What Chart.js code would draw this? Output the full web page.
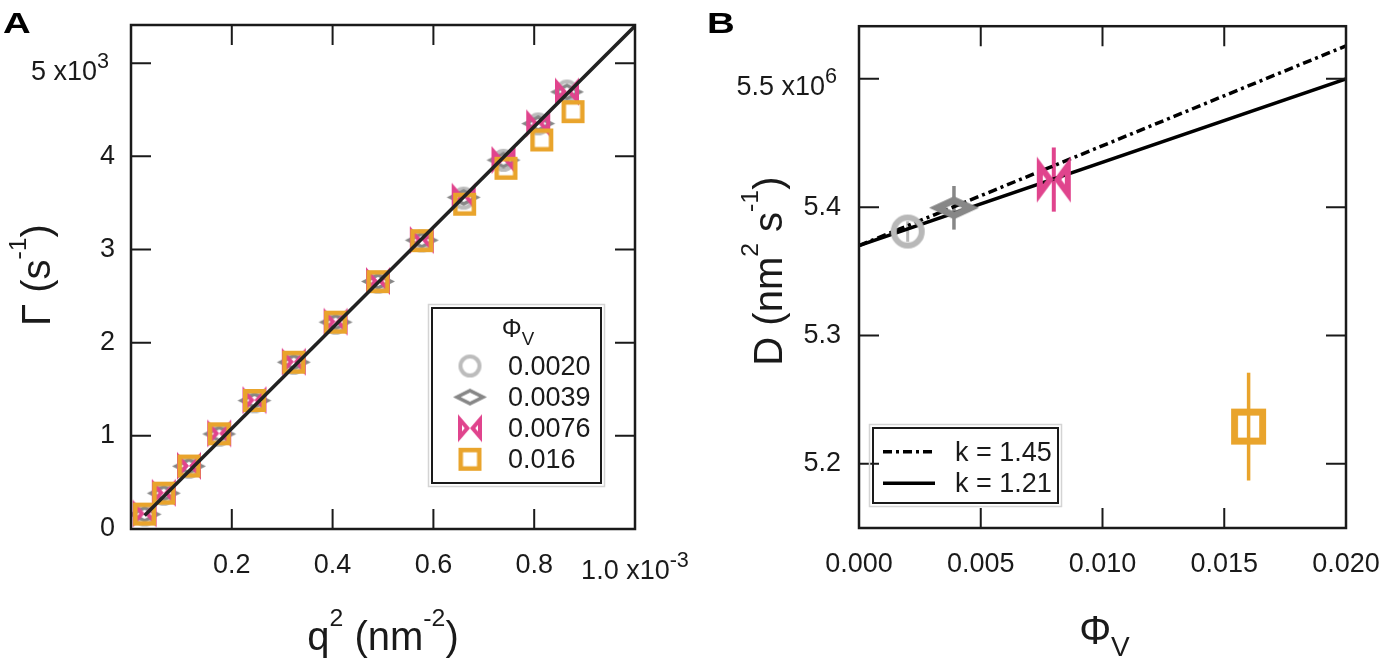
<!DOCTYPE html>
<html>
<head>
<meta charset="utf-8">
<script src="https://cdn.jsdelivr.net/npm/chart.js@4/dist/chart.umd.min.js"></script>
<style>
  body { margin: 0; background: #fff; width: 1400px; height: 665px; overflow: hidden; position: relative; }
  canvas { position: absolute; top: 0; }
</style>
</head>
<body>
<canvas id="chartA" width="700" height="665" style="left:0"></canvas>
<canvas id="chartB" width="700" height="665" style="left:700px"></canvas>
<script>
// ---- panel A: decay rate vs q^2 (q^2 in units of 1e-3 nm^-2) ----
var q2 = [0.027, 0.065, 0.115, 0.175, 0.245, 0.323, 0.406, 0.490, 0.577, 0.660, 0.739, 0.808, 0.865];
var q2Square = [0.027, 0.065, 0.115, 0.175, 0.245, 0.323, 0.406, 0.490, 0.577, 0.662, 0.744, 0.815, 0.877];
var gammaPhi0020 = [150, 372, 662, 1006, 1365, 1778, 2208, 2648, 3092, 3552, 3958, 4348, 4702];
var gammaPhi0039 = [158, 384, 674, 1020, 1378, 1790, 2220, 2658, 3100, 3560, 3960, 4352, 4692];
var gammaPhi0076 = [166, 388, 678, 1026, 1383, 1795, 2225, 2662, 3102, 3567, 3961, 4355, 4695];
var gammaPhi016 = [160, 385, 676, 1022, 1380, 1790, 2220, 2655, 3095, 3486, 3872, 4176, 4480];
var fitA_q2 = [0.027, 1.0];
var fitA_gamma = [146, 5400];
var phiLabels = ['0.0020', '0.0039', '0.0076', '0.016'];
var xTicksA = [0.2, 0.4, 0.6, 0.8, 1.0];
var yTicksA = [0, 1000, 2000, 3000, 4000, 5000];

// ---- panel B: diffusion coefficient vs volume fraction (D in units of 1e6 nm^2/s) ----
var phiV = [0.0020, 0.0039, 0.0080, 0.0160];
var dValue = [5.381, 5.3995, 5.4215, 5.229];
var dError = [0.008, 0.017, 0.025, 0.042];
var fitB_phi = [0, 0.020];
var fitK145 = [5.370, 5.5257];
var fitK121 = [5.370, 5.500];
var fitLabels = ['k = 1.45', 'k = 1.21'];
var xTicksB = [0, 0.005, 0.010, 0.015, 0.020];
var yTicksB = [5.2, 5.3, 5.4, 5.5];

var FONT = '"Liberation Sans", Arial, Helvetica, sans-serif';
var INK = '#1a1a1a';
var TICK = 27;
var colCircle = '#bcbcbc', colDiamond = '#878787', colPink = '#e0448d', colOrange = '#e9a42c';
var dashDot = [9, 4, 3, 4];

function pts(xs, ys) {
  return xs.map(function (x, i) { return { x: x, y: ys[i] }; });
}

// polygon scaled toward its incenter so that the rim is t wide
function shrink(p, t) {
  var n = p.length, per = 0, area = 0, cx = 0, cy = 0, i;
  for (i = 0; i < n; i++) {
    var a = p[i], b = p[(i + 1) % n];
    per += Math.hypot(b[0] - a[0], b[1] - a[1]);
    area += a[0] * b[1] - b[0] * a[1];
  }
  area = Math.abs(area) / 2;
  if (n === 3) {
    var la = Math.hypot(p[1][0] - p[2][0], p[1][1] - p[2][1]);
    var lb = Math.hypot(p[0][0] - p[2][0], p[0][1] - p[2][1]);
    var lc = Math.hypot(p[0][0] - p[1][0], p[0][1] - p[1][1]);
    cx = (la * p[0][0] + lb * p[1][0] + lc * p[2][0]) / per;
    cy = (la * p[0][1] + lb * p[1][1] + lc * p[2][1]) / per;
  } else {
    p.forEach(function (q) { cx += q[0] / n; cy += q[1] / n; });
  }
  var r = 2 * area / per;
  var s = Math.max(0, (r - t) / r);
  return p.map(function (q) { return [cx + (q[0] - cx) * s, cy + (q[1] - cy) * s]; });
}

function addPoly(g, p) {
  g.moveTo(p[0][0], p[0][1]);
  for (var i = 1; i < p.length; i++) g.lineTo(p[i][0], p[i][1]);
  g.closePath();
}

function makeMarker(kind, color, w, h, t) {
  var c = document.createElement('canvas');
  c.width = Math.ceil(w) + 4;
  c.height = Math.ceil(h) + 4;
  var g = c.getContext('2d');
  g.translate(c.width / 2, c.height / 2);
  g.fillStyle = color;
  g.strokeStyle = color;
  if (kind === 'circle') {
    g.lineWidth = t;
    g.beginPath();
    g.arc(0, 0, (w - t) / 2, 0, Math.PI * 2);
    g.stroke();
    return c;
  }
  var polys;
  if (kind === 'square') polys = [[[-w / 2, -h / 2], [w / 2, -h / 2], [w / 2, h / 2], [-w / 2, h / 2]]];
  else if (kind === 'diamond') polys = [[[-w / 2, 0], [0, -h / 2], [w / 2, 0], [0, h / 2]]];
  else polys = [[[-w / 2, -h / 2], [0, 0], [-w / 2, h / 2]], [[w / 2, -h / 2], [0, 0], [w / 2, h / 2]]];
  g.beginPath();
  polys.forEach(function (p) {
    addPoly(g, p);
    addPoly(g, shrink(p, t));
  });
  g.fill('evenodd');
  return c;
}

var mkA = [
  makeMarker('circle', colCircle, 23, 23, 4),
  makeMarker('diamond', colDiamond, 34, 17, 3.5),
  makeMarker('bowtie', colPink, 24, 28, 4),
  makeMarker('square', colOrange, 23, 23, 4.5)
];
var mkB = [
  makeMarker('circle', '#b8b8b8', 34, 34, 6),
  makeMarker('diamond', colDiamond, 50, 23, 7),
  makeMarker('bowtie', colPink, 34, 46, 6),
  makeMarker('square', colOrange, 35, 36, 7)
];

// text with super/subscripts; parts = [[text, 0 | 1 (sup) | -1 (sub)], ...]
function drawRich(ctx, parts, size, x, y, align, o) {
  var widths = parts.map(function (p) {
    var fs = p[1] === 1 ? size * o.supScale : p[1] === -1 ? size * o.subScale : size;
    ctx.font = fs + 'px ' + FONT;
    return ctx.measureText(p[0]).width;
  });
  var total = widths.reduce(function (s, w) { return s + w; }, 0);
  var cx = align === 'center' ? x - total / 2 : align === 'right' ? x - total : x;
  ctx.textAlign = 'left';
  ctx.textBaseline = 'alphabetic';
  parts.forEach(function (p, i) {
    var fs = size, dy = 0;
    if (p[1] === 1) { fs = size * o.supScale; dy = -size * o.supRise; }
    if (p[1] === -1) { fs = size * o.subScale; dy = size * o.subDrop; }
    ctx.font = fs + 'px ' + FONT;
    ctx.fillText(p[0], cx, y + dy);
    cx += widths[i];
  });
}
var tickSup = { supScale: 0.8, supRise: 0.45, subScale: 0.7, subDrop: 0.3 };
var titleSup = { supScale: 0.62, supRise: 0.6, subScale: 0.7, subDrop: 0.3 };

function drawRotated(ctx, parts, size, x, y, o) {
  ctx.save();
  ctx.translate(x, y);
  ctx.rotate(-Math.PI / 2);
  drawRich(ctx, parts, size, 0, 0, 'center', o);
  ctx.restore();
}

function drawFrame(chart, xTicks, yTicks, len) {
  var ctx = chart.ctx, a = chart.chartArea, xs = chart.scales.x, ys = chart.scales.y;
  ctx.save();
  ctx.strokeStyle = INK;
  ctx.lineWidth = 2;
  ctx.beginPath();
  xTicks.forEach(function (v) {
    var px = xs.getPixelForValue(v);
    ctx.moveTo(px, a.bottom); ctx.lineTo(px, a.bottom - len);
    ctx.moveTo(px, a.top); ctx.lineTo(px, a.top + len);
  });
  yTicks.forEach(function (v) {
    var py = ys.getPixelForValue(v);
    ctx.moveTo(a.left, py); ctx.lineTo(a.left + len, py);
    ctx.moveTo(a.right, py); ctx.lineTo(a.right - len, py);
  });
  ctx.stroke();
  ctx.lineWidth = 2.5;
  ctx.strokeRect(a.left, a.top, a.right - a.left, a.bottom - a.top);
  ctx.restore();
}

function legendBox(ctx, x1, y1, x2, y2) {
  ctx.save();
  ctx.strokeStyle = '#d4d4d4';
  ctx.lineWidth = 1.5;
  ctx.strokeRect(x1 - 3.5, y1 - 3.5, x2 - x1 + 7, y2 - y1 + 7);
  ctx.strokeStyle = INK;
  ctx.lineWidth = 2;
  ctx.strokeRect(x1, y1, x2 - x1, y2 - y1);
  ctx.restore();
}

function panelLetter(ctx, ch, x, y) {
  ctx.save();
  ctx.fillStyle = '#000';
  ctx.font = 'bold 32px ' + FONT;
  ctx.textAlign = 'left';
  ctx.textBaseline = 'alphabetic';
  ctx.translate(x, y);
  ctx.scale(1.2, 0.95);
  ctx.fillText(ch, 0, 0);
  ctx.restore();
}

var decoA = {
  id: 'decoA',
  afterDraw: function (chart) {
    var ctx = chart.ctx, a = chart.chartArea, xs = chart.scales.x, ys = chart.scales.y;
    drawFrame(chart, xTicksA, yTicksA, 20);
    ctx.save();
    ctx.fillStyle = INK;
    drawRich(ctx, [['5 x10', 0], ['3', 1]], TICK, a.left - 22, ys.getPixelForValue(5000) + 17, 'right', tickSup);
    drawRich(ctx, [['1.0 x10', 0], ['-3', 1]], TICK, xs.getPixelForValue(1.0), a.bottom + 50, 'center', tickSup);
    drawRotated(ctx, [['\u0393 (s', 0], ['-1', 1], [')', 0]], 40, 50, (a.top + a.bottom) / 2 - 2, titleSup);
    drawRich(ctx, [['q', 0], ['2', 1], [' (nm', 0], ['-2', 1], [')', 0]], 40, (a.left + a.right) / 2, 650, 'center', titleSup);

    // legend
    legendBox(ctx, 432, 308, 601, 483);
    drawRich(ctx, [['\u03a6', 0], ['V', -1]], 25, 518, 337, 'center', { supScale: 0.6, supRise: 0.5, subScale: 0.75, subDrop: 0.3 });
    ctx.font = TICK + 'px ' + FONT;
    ctx.textAlign = 'left';
    ctx.textBaseline = 'alphabetic';
    for (var i = 0; i < phiLabels.length; i++) {
      var by = 375 + i * 31.1;
      var m = mkA[i];
      ctx.drawImage(m, 470 - m.width / 2, by - 9 - m.height / 2);
      ctx.fillText(phiLabels[i], 508, by);
    }
    ctx.restore();
    panelLetter(ctx, 'A', 3, 33);
  }
};

var decoB = {
  id: 'decoB',
  beforeDatasetsDraw: function (chart) {
    var ctx = chart.ctx, xs = chart.scales.x, ys = chart.scales.y;
    var cols = ['#b8b8b8', colDiamond, colPink, colOrange];
    var widths = [3, 3.5, 4, 3.5];
    ctx.save();
    for (var i = 0; i < phiV.length; i++) {
      var px = xs.getPixelForValue(phiV[i]);
      ctx.strokeStyle = cols[i];
      ctx.lineWidth = widths[i];
      ctx.beginPath();
      ctx.moveTo(px, ys.getPixelForValue(dValue[i] - dError[i]));
      ctx.lineTo(px, ys.getPixelForValue(dValue[i] + dError[i]));
      ctx.stroke();
    }
    ctx.restore();
  },
  afterDraw: function (chart) {
    var ctx = chart.ctx, a = chart.chartArea, xs = chart.scales.x, ys = chart.scales.y;
    drawFrame(chart, xTicksB, yTicksB, 20);
    ctx.save();
    ctx.fillStyle = INK;
    drawRich(ctx, [['5.5 x10', 0], ['6', 1]], TICK, a.left - 22, ys.getPixelForValue(5.5) + 16, 'right', tickSup);
    drawRotated(ctx, [['D (nm', 0], ['2', 1], [' s', 0], ['-1', 1], [')', 0]], 40, 82, (a.top + a.bottom) / 2 - 6, titleSup);
    drawRich(ctx, [['\u03a6', 0], ['V', -1]], 40, (a.left + a.right) / 2 + 2, 644, 'center', titleSup);

    // legend
    legendBox(ctx, 173, 428, 358, 503);
    var styles = [dashDot, []];
    ctx.font = TICK + 'px ' + FONT;
    ctx.textAlign = 'left';
    ctx.textBaseline = 'alphabetic';
    for (var i = 0; i < fitLabels.length; i++) {
      var ly = 451.7 + i * 31.6;
      ctx.strokeStyle = '#000';
      ctx.lineWidth = 3.5;
      ctx.setLineDash(styles[i]);
      ctx.beginPath();
      ctx.moveTo(183, ly);
      ctx.lineTo(235, ly);
      ctx.stroke();
      ctx.setLineDash([]);
      ctx.fillText(fitLabels[i], 255, ly + 9);
    }
    ctx.restore();
    panelLetter(ctx, 'B', 7, 33);
  }
};

function tickFont() {
  return { family: FONT, size: TICK };
}

var chartA = new Chart(document.getElementById('chartA'), {
  type: 'scatter',
  data: {
    datasets: [
      { label: 'fit', data: pts(fitA_q2, fitA_gamma), showLine: true, pointRadius: 0,
        borderColor: '#222', borderWidth: 3.5, order: 0 },
      { label: phiLabels[3], data: pts(q2Square, gammaPhi016), pointStyle: mkA[3], pointRadius: 11, order: 1 },
      { label: phiLabels[2], data: pts(q2, gammaPhi0076), pointStyle: mkA[2], pointRadius: 11, order: 2 },
      { label: phiLabels[1], data: pts(q2, gammaPhi0039), pointStyle: mkA[1], pointRadius: 11, order: 3 },
      { label: phiLabels[0], data: pts(q2, gammaPhi0020), pointStyle: mkA[0], pointRadius: 11, order: 4 }
    ]
  },
  options: {
    responsive: false,
    animation: false,
    events: [],
    layout: { padding: { top: 25, right: 65, left: 0, bottom: 0 } },
    plugins: { legend: { display: false }, tooltip: { enabled: false } },
    scales: {
      x: {
        type: 'linear', min: 0, max: 1.0,
        grid: { display: false }, border: { display: false },
        afterBuildTicks: function (s) { s.ticks = xTicksA.map(function (v) { return { value: v }; }); },
        afterFit: function (s) { s.height = 136; },
        ticks: {
          padding: 12, color: INK, font: tickFont(), maxRotation: 0,
          callback: function (v) { return v === 1 ? '' : v.toFixed(1); }
        }
      },
      y: {
        type: 'linear', min: 0, max: 5410,
        grid: { display: false }, border: { display: false },
        afterBuildTicks: function (s) { s.ticks = yTicksA.map(function (v) { return { value: v }; }); },
        afterFit: function (s) { s.width = 131; },
        ticks: {
          padding: 8, color: INK, font: tickFont(),
          callback: function (v) { return v === 5000 ? '' : String(v / 1000); }
        }
      }
    }
  },
  plugins: [decoA]
});

var chartB = new Chart(document.getElementById('chartB'), {
  type: 'scatter',
  data: {
    datasets: [
      { label: phiLabels[0], data: [{ x: phiV[0], y: dValue[0] }], pointStyle: mkB[0], pointRadius: 17, order: 0 },
      { label: phiLabels[1], data: [{ x: phiV[1], y: dValue[1] }], pointStyle: mkB[1], pointRadius: 17, order: 1 },
      { label: phiLabels[2], data: [{ x: phiV[2], y: dValue[2] }], pointStyle: mkB[2], pointRadius: 17, order: 2 },
      { label: phiLabels[3], data: [{ x: phiV[3], y: dValue[3] }], pointStyle: mkB[3], pointRadius: 17, order: 3 },
      { label: fitLabels[0], data: pts(fitB_phi, fitK145), showLine: true, pointRadius: 0,
        borderColor: '#000', borderWidth: 3.5, borderDash: dashDot, order: 4 },
      { label: fitLabels[1], data: pts(fitB_phi, fitK121), showLine: true, pointRadius: 0,
        borderColor: '#000', borderWidth: 3.5, order: 5 }
    ]
  },
  options: {
    responsive: false,
    animation: false,
    events: [],
    layout: { padding: { top: 25, right: 54, left: 0, bottom: 0 } },
    plugins: { legend: { display: false }, tooltip: { enabled: false } },
    scales: {
      x: {
        type: 'linear', min: 0, max: 0.020,
        grid: { display: false }, border: { display: false },
        afterBuildTicks: function (s) { s.ticks = xTicksB.map(function (v) { return { value: v }; }); },
        afterFit: function (s) { s.height = 137; },
        ticks: {
          padding: 12, color: INK, font: tickFont(), maxRotation: 0,
          callback: function (v) { return v.toFixed(3); }
        }
      },
      y: {
        type: 'linear', min: 5.15, max: 5.541,
        grid: { display: false }, border: { display: false },
        afterBuildTicks: function (s) { s.ticks = yTicksB.map(function (v) { return { value: v }; }); },
        afterFit: function (s) { s.width = 159; },
        ticks: {
          padding: 10, color: INK, font: tickFont(),
          callback: function (v) { return v === 5.5 ? '' : v.toFixed(1); }
        }
      }
    }
  },
  plugins: [decoB]
});
</script>
</body>
</html>
